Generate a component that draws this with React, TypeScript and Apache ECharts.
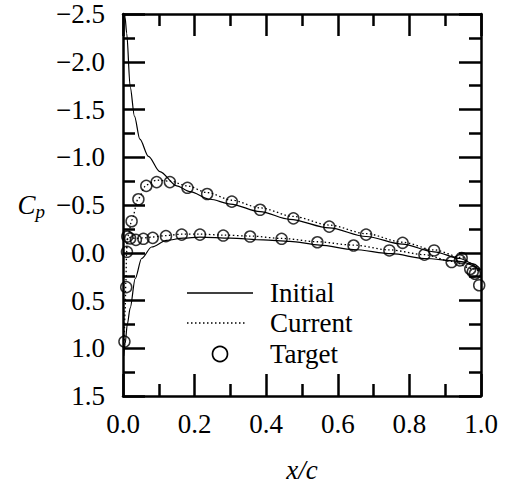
import React, { useEffect, useRef } from "react";
import * as echarts from "echarts";

// Pressure coefficient Cp vs x/c
const initialUpper: [number, number][] = [
  [0.004, -2.6], [0.0056, -2.47], [0.0103, -2.3], [0.02, -1.74], [0.032, -1.43],
  [0.047, -1.19], [0.071, -1.01], [0.103, -0.85], [0.15, -0.7], [0.187, -0.64],
  [0.243, -0.56], [0.3, -0.51], [0.383, -0.43], [0.466, -0.35], [0.576, -0.26],
  [0.679, -0.17], [0.781, -0.09], [0.869, -0.01], [0.941, 0.06], [0.98, 0.12], [1.0, 0.18],
];
const initialLower: [number, number][] = [
  [0.002, 1.08], [0.006, 0.95], [0.012, 0.75], [0.02, 0.58], [0.034, 0.27],
  [0.052, 0.06], [0.08, -0.06], [0.122, -0.13], [0.168, -0.153], [0.215, -0.164],
  [0.3, -0.153], [0.392, -0.135], [0.466, -0.12], [0.55, -0.08], [0.644, -0.034],
  [0.75, 0.01], [0.842, 0.06], [0.94, 0.09], [1.0, 0.18],
];
const currentUpper: [number, number][] = [
  [0.01, -0.05], [0.016, -0.2], [0.024, -0.34], [0.043, -0.57], [0.065, -0.71],
  [0.094, -0.76], [0.131, -0.75], [0.18, -0.7], [0.235, -0.63], [0.304, -0.55],
  [0.383, -0.47], [0.476, -0.38], [0.576, -0.29], [0.679, -0.2], [0.781, -0.11],
  [0.869, -0.03], [0.946, 0.05], [0.98, 0.13], [1.0, 0.2],
];
const currentLower: [number, number][] = [
  [0.003, 1.0], [0.006, 0.6], [0.008, 0.3], [0.01, 0.0], [0.012, -0.15],
  [0.02, -0.16], [0.036, -0.15], [0.057, -0.155], [0.083, -0.165], [0.12, -0.18],
  [0.164, -0.195], [0.215, -0.195], [0.28, -0.185], [0.355, -0.175], [0.443, -0.15],
  [0.543, -0.115], [0.644, -0.08], [0.744, -0.03], [0.842, 0.02], [0.918, 0.09],
  [0.977, 0.17], [1.0, 0.2],
];
const targetUpper: [number, number][] = [
  [0.024, -0.33], [0.043, -0.56], [0.065, -0.7], [0.094, -0.74], [0.131, -0.74],
  [0.18, -0.68], [0.235, -0.615], [0.304, -0.535], [0.383, -0.45], [0.476, -0.36],
  [0.576, -0.274], [0.679, -0.19], [0.781, -0.104], [0.869, -0.024], [0.946, 0.055],
  [0.97, 0.17], [0.983, 0.22], [0.995, 0.34],
];
const targetLower: [number, number][] = [
  [0.004, 0.93], [0.009, 0.36], [0.011, -0.01], [0.012, -0.17], [0.02, -0.15],
  [0.036, -0.135], [0.057, -0.146], [0.083, -0.156], [0.12, -0.174], [0.164, -0.19],
  [0.215, -0.19], [0.28, -0.18], [0.355, -0.17], [0.443, -0.146], [0.543, -0.11],
  [0.644, -0.076], [0.744, -0.024], [0.842, 0.02], [0.918, 0.097], [0.941, 0.08], [0.977, 0.2],
];
const legendNames = ["Initial", "Current", "Target"];

const FONT = "Liberation Serif";
const FS = 27;

function fmtY(v: number) {
  const s = Math.abs(v).toFixed(1);
  return v < -1e-9 ? "\u2212" + s : s;
}

export default function App() {
  const ref = useRef<HTMLDivElement>(null);
  useEffect(() => {
    const chart = echarts.init(ref.current!, null, { renderer: "svg" });
    const axisLine = { show: true, onZero: false, lineStyle: { color: "#000", width: 2.5 } };
    const tick = { show: true, inside: true, length: 22, lineStyle: { color: "#000", width: 2.5 } };
    const minor = { show: true, splitNumber: 2, length: 12, lineStyle: { color: "#000", width: 2.5 } };
    const label = { color: "#000", fontFamily: FONT, fontSize: FS };
    const solid = { color: "#000", width: 1.2, type: "solid" as const };
    const dotted = { color: "#000", width: 1.3, type: [1.5, 2.5] };
    const lineSeries = (name: string, data: [number, number][], ls: any) => ({
      name, type: "line", data, symbol: "none", smooth: 0.3, smoothMonotone: "x",
      lineStyle: ls, clip: true, xAxisIndex: 0, yAxisIndex: 0,
    });
    const scatter = (name: string, data: [number, number][]) => ({
      name, type: "scatter", data, symbol: "circle", symbolSize: 11,
      itemStyle: { color: "rgba(0,0,0,0)", borderColor: "#000", borderWidth: 1.5 },
      xAxisIndex: 0, yAxisIndex: 0,
    });
    const lx1 = 187, ty = [293, 323, 354], tx = 270;
    chart.setOption({
      animation: false,
      backgroundColor: "#fff",
      grid: { left: 123, right: 26, top: 14, bottom: 90, containLabel: false },
      xAxis: [
        {
          type: "value", min: 0, max: 1, interval: 0.2, position: "bottom",
          axisLine, axisTick: tick, minorTick: minor, splitLine: { show: false },
          axisLabel: { ...label, margin: 14, formatter: (v: number) => v.toFixed(1) },
          name: "x/c", nameLocation: "middle", nameGap: 60,
          nameTextStyle: { color: "#000", fontFamily: FONT, fontSize: FS, fontStyle: "italic" },
        },
        {
          type: "value", min: 0, max: 1, interval: 0.2, position: "top",
          axisLine, axisTick: tick, minorTick: minor, splitLine: { show: false },
          axisLabel: { show: false },
        },
      ],
      yAxis: [
        {
          type: "value", min: -2.5, max: 1.5, interval: 0.5, inverse: true, position: "left",
          axisLine, axisTick: tick, minorTick: minor, splitLine: { show: false },
          axisLabel: { ...label, margin: 18, formatter: fmtY },
          name: "{c|C}{p|p}", nameLocation: "middle", nameRotate: 0, nameGap: 78,
          nameTextStyle: {
            align: "right",
            rich: {
              c: { fontFamily: FONT, fontSize: FS, fontStyle: "italic", color: "#000" },
              p: { fontFamily: FONT, fontSize: 19, fontStyle: "italic", color: "#000", padding: [12, 0, 0, 0] },
            },
          },
        },
        {
          type: "value", min: -2.5, max: 1.5, interval: 0.5, inverse: true, position: "right",
          axisLine, axisTick: tick, minorTick: minor, splitLine: { show: false },
          axisLabel: { show: false },
        },
      ],
      series: [
        lineSeries("Initial", initialUpper, solid),
        lineSeries("Initial", initialLower, solid),
        lineSeries("Current", currentUpper, dotted),
        lineSeries("Current", currentLower, dotted),
        scatter("Target", targetUpper),
        scatter("Target", targetLower),
      ],
      graphic: [
        { type: "line", shape: { x1: lx1, y1: ty[0], x2: 253, y2: ty[0] }, style: { stroke: "#000", lineWidth: 1.3 } },
        { type: "line", shape: { x1: lx1, y1: ty[1], x2: 247, y2: ty[1] }, style: { stroke: "#000", lineWidth: 1.3, lineDash: [1.5, 2.5] } },
        { type: "circle", shape: { cx: 220, cy: ty[2], r: 7.5 }, style: { fill: "none", stroke: "#000", lineWidth: 1.7 } },
        ...legendNames.map((n, i) => ({
          type: "text", x: tx, y: ty[i],
          style: { text: n, fill: "#000", fontFamily: FONT, fontSize: FS, verticalAlign: "middle", align: "left" },
        })),
      ],
    });
    return () => chart.dispose();
  }, []);
  return (
    <div
      ref={ref}
      style={{ position: "fixed", left: 0, top: 0, width: 507, height: 488, background: "#fff" }}
    />
  );
}
